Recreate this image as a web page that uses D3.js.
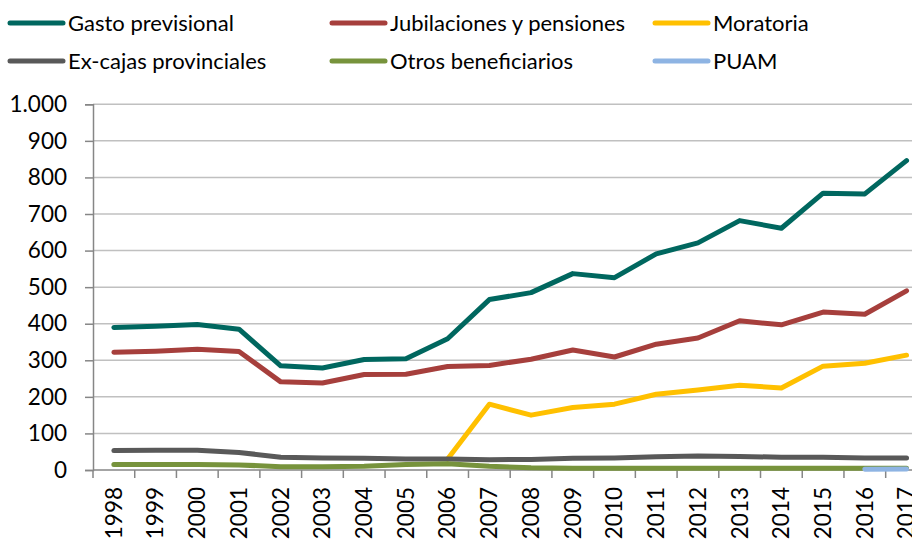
<!DOCTYPE html>
<html>
<head>
<meta charset="utf-8">
<script src="https://cdn.jsdelivr.net/npm/d3@7"></script>
<style>
  body { margin: 0; background: #fff; }
  svg { display: block; font-family: Lato, "Open Sans", sans-serif; }
</style>
</head>
<body>
<div id="chart"></div>
<script>
// --- data ---
var years = ["1998","1999","2000","2001","2002","2003","2004","2005","2006","2007",
             "2008","2009","2010","2011","2012","2013","2014","2015","2016","2017"]
var gasto       = [390, 393, 398, 385, 285, 279, 302, 304, 359, 466, 485, 537, 526, 591, 621, 682, 661, 757, 755, 846]
var jubilaciones = [322, 325, 330, 324, 241, 238, 261, 262, 283, 286, 303, 328, 309, 344, 361, 408, 397, 432, 426, 490]
var moratoria   = [null, null, null, null, null, null, null, null, 30, 180, 150, 171, 180, 207, 219, 232, 224, 284, 292, 314]
var excajas     = [53, 54, 54, 48, 35, 33, 32, 30, 30, 28, 29, 32, 33, 36, 38, 37, 35, 35, 33, 33]
var otros       = [15, 15, 15, 14, 9, 9, 10, 15, 17, 10, 6, 5, 5, 5, 5, 5, 5, 5, 5, 5]
var puam        = [null, null, null, null, null, null, null, null, null, null, null, null, null, null, null, null, null, null, 2, 3]
var yTicks = [0, 100, 200, 300, 400, 500, 600, 700, 800, 900, 1000]

var seriesNames = ["Gasto previsional", "Jubilaciones y pensiones", "Moratoria",
                   "Ex-cajas provinciales", "Otros beneficiarios", "PUAM"]
var seriesValues = [gasto, jubilaciones, moratoria, excajas, otros, puam]
var seriesColors = ["#00675f", "#a63f3c", "#ffc000", "#595959", "#77933c", "#8eb4e3"]

var width = 912, height = 542
var margin = {top: 104.3, left: 93}
var plotRight = 93 + 20 * 41.72   // plot runs past the right edge, as in the source
var plotBottom = 470

var svg = d3.select("#chart").append("svg")
    .attr("width", width).attr("height", height)

var x = d3.scaleBand().domain(years).range([margin.left, plotRight]).padding(0)
var y = d3.scaleLinear().domain([0, 1000]).range([plotBottom, margin.top])

var fmt = d3.formatLocale({decimal: ",", thousands: ".", grouping: [3], currency: ["$", ""]}).format(",d")

// gridlines
svg.append("g").selectAll("line").data(yTicks.filter(function (d) { return d > 0 }))
    .enter().append("line")
    .attr("x1", margin.left).attr("x2", width)
    .attr("y1", function (d) { return y(d) }).attr("y2", function (d) { return y(d) })
    .attr("stroke", "#c0c0c0").attr("stroke-width", 1.5)

// y axis
var yAxis = svg.append("g")
    .attr("transform", "translate(" + margin.left + ",0)")
    .call(d3.axisLeft(y).tickValues(yTicks).tickSize(8).tickPadding(18).tickFormat(fmt))
yAxis.select(".domain").attr("stroke", "#868686").attr("stroke-width", 1.5)
yAxis.selectAll(".tick line").attr("stroke", "#868686").attr("stroke-width", 1.5)
yAxis.selectAll("text").attr("font-size", 22.5).attr("fill", "#000")
    .attr("font-family", "Lato, 'Open Sans', sans-serif")

// x axis: labels at band centres, tick marks between categories
var xAxis = svg.append("g")
    .attr("transform", "translate(0," + plotBottom + ")")
    .call(d3.axisBottom(x).tickSize(0).tickPadding(0))
xAxis.select(".domain").remove()
xAxis.selectAll("text")
    .attr("font-size", 22.5).attr("fill", "#000")
    .attr("font-family", "Lato, 'Open Sans', sans-serif")
    .attr("text-anchor", "end")
    .attr("dy", "0.35em")
    .attr("transform", "translate(0,17) rotate(-90)")
    .attr("y", 0).attr("x", 0)

svg.append("line")
    .attr("x1", margin.left).attr("x2", width)
    .attr("y1", plotBottom).attr("y2", plotBottom)
    .attr("stroke", "#868686").attr("stroke-width", 1.5)

svg.append("g").selectAll("line").data(years)
    .enter().append("line")
    .attr("x1", function (d) { return x(d) }).attr("x2", function (d) { return x(d) })
    .attr("y1", plotBottom).attr("y2", plotBottom + 8)
    .attr("stroke", "#868686").attr("stroke-width", 1.5)

// lines
var line = d3.line()
    .defined(function (d) { return d != null })
    .x(function (d, i) { return x(years[i]) + x.bandwidth() / 2 })
    .y(function (d) { return y(d) })

svg.append("g").selectAll("path").data(seriesValues)
    .enter().append("path")
    .attr("d", line)
    .attr("fill", "none")
    .attr("stroke", function (d, i) { return seriesColors[i] })
    .attr("stroke-width", 5)
    .attr("stroke-linecap", "round")
    .attr("stroke-linejoin", "round")

// legend
var legendX = [10, 332, 655]
var legendY = [23, 61]
var legend = svg.append("g").selectAll("g").data(seriesNames)
    .enter().append("g")
    .attr("transform", function (d, i) {
        return "translate(" + [legendX[i % 3], legendY[Math.floor(i / 3)]] + ")"
    })
legend.append("line")
    .attr("x1", 0).attr("x2", 53).attr("y1", 0).attr("y2", 0)
    .attr("stroke", function (d, i) { return seriesColors[i] })
    .attr("stroke-width", 5).attr("stroke-linecap", "round")
legend.append("text")
    .attr("x", 58).attr("y", 0).attr("dy", "0.35em")
    .attr("font-size", 22).attr("fill", "#000")
    .text(function (d) { return d })
</script>
</body>
</html>
